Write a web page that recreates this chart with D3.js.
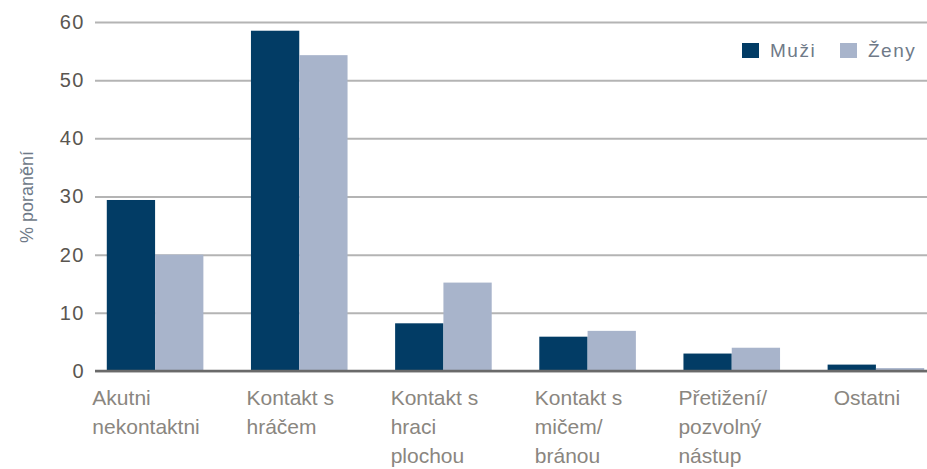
<!DOCTYPE html>
<html>
<head>
<meta charset="utf-8">
<script src="https://cdn.jsdelivr.net/npm/d3@7"></script>
<style>
  body { margin: 0; background: #fff; }
  .chart text { font-family: "Liberation Sans", Arial, sans-serif; }
</style>
</head>
<body>
<div class="content"></div>
<script>
var size = {width: 927, height: 469};

var categories = [
    ["Akutni", "nekontaktni"],
    ["Kontakt s", "hráčem"],
    ["Kontakt s", "hraci", "plochou"],
    ["Kontakt s", "mičem/", "bránou"],
    ["Přetižení/", "pozvolný", "nástup"],
    ["Ostatni"]
];
var seriesNames = ["Muži", "Ženy"];
var muzi = [29.4, 58.5, 8.2, 5.9, 3.0, 1.1];
var zeny = [20.0, 54.3, 15.2, 6.9, 4.0, 0.5];
var yTicks = [0, 10, 20, 30, 40, 50, 60];
var yLabel = "% poranění";

var colors = {"Muži": "#023c65", "Ženy": "#a8b4cb"};

var keys = categories.map(function(c) { return c.join(" "); });
var rows = keys.map(function(k, i) {
    return {key: k, lines: categories[i], values: [muzi[i], zeny[i]]};
});

var chart = d3.select('.content')
    .append('svg')
    .attr('width', size.width)
    .attr('height', size.height)
    .attr('class', 'chart');

var xScale = d3.scaleBand()
    .domain(keys)
    .range([83, 948])
    .paddingInner(0.33)
    .paddingOuter(0.165);
var x1 = d3.scaleBand()
    .domain(seriesNames)
    .range([0, xScale.bandwidth()]);
var yScale = d3.scaleLinear()
    .domain([0, 60])
    .range([371, 22]);

// grid + tick labels
var yAxis = d3.axisLeft(yScale)
    .tickValues(yTicks)
    .tickSize(-(size.width - 95))
    .tickPadding(10);
var yAxisObj = chart.append('g')
    .attr("transform", "translate(95,0)")
    .call(yAxis);
yAxisObj.select(".domain").remove();
yAxisObj.selectAll(".tick line")
    .attr("stroke", "#b4b4b4")
    .attr("stroke-width", 2);
yAxisObj.selectAll(".tick text")
    .attr("fill", "#5a5650")
    .style("font-size", "20px")
    .style("letter-spacing", "1.5px");

chart.append("text")
    .attr("transform", "translate(33,197) rotate(-90)")
    .attr("text-anchor", "middle")
    .attr("fill", "#6f7a88")
    .style("font-size", "18px")
    .text(yLabel);

// bars
var groups = chart.append('g').selectAll("g")
    .data(rows)
    .enter().append("g")
    .attr("transform", function(d) { return "translate(" + xScale(d.key) + ",0)"; });
groups.selectAll("rect")
    .data(function(d) { return d.values.map(function(v, i) { return {name: seriesNames[i], value: v}; }); })
    .enter().append("rect")
    .attr("x", function(d) { return x1(d.name); })
    .attr("width", x1.bandwidth())
    .attr("y", function(d) { return yScale(d.value); })
    .attr("height", function(d) { return yScale(0) - yScale(d.value); })
    .attr("fill", function(d) { return colors[d.name]; });

// baseline
chart.append("line")
    .attr("x1", 95).attr("x2", size.width)
    .attr("y1", yScale(0)).attr("y2", yScale(0))
    .attr("stroke", "#6a6a6a")
    .attr("stroke-width", 2.5);

// category labels
var labels = chart.append('g').selectAll("text")
    .data(rows)
    .enter().append("text")
    .attr("fill", "#8a8680")
    .style("font-size", "21px");
labels.each(function(d) {
    var t = d3.select(this);
    d.lines.forEach(function(l, i) {
        t.append("tspan").attr("y", 405 + i * 29).text(l);
    });
});
labels.each(function(d) {
    var t = d3.select(this);
    var w = d3.max(t.selectAll("tspan").nodes(), function(n) { return n.getComputedTextLength(); });
    var left = xScale(d.key) + xScale.bandwidth() / 2 - w / 2 - 9;
    t.selectAll("tspan").attr("x", left);
});

// legend
var legend = chart.append('g').selectAll("g")
    .data(seriesNames)
    .enter().append("g")
    .attr("transform", function(d, i) { return "translate(" + (742 + i * 98) + ",43)"; });
legend.append("rect")
    .attr("width", 17).attr("height", 15)
    .attr("fill", function(d) { return colors[d]; });
legend.append("text")
    .attr("x", 28).attr("y", 14)
    .attr("fill", "#6f7a88")
    .style("font-size", "19px")
    .style("letter-spacing", "1.5px")
    .text(function(d) { return d; });
</script>
</body>
</html>
